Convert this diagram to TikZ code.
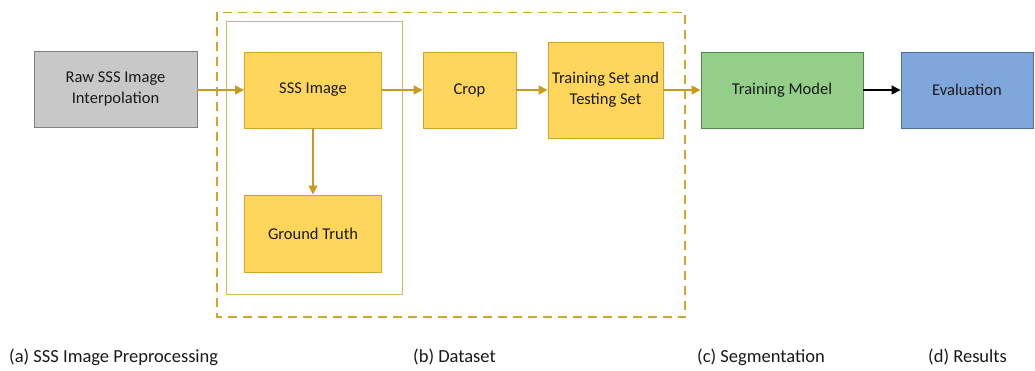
\documentclass[tikz,border=0pt]{standalone}
\usepackage{fontspec}
\setmainfont{Carlito}
\usetikzlibrary{arrows.meta}
\definecolor{goldfill}{HTML}{FFD65C}
\definecolor{goldline}{HTML}{D4A52C}
\definecolor{goldarrow}{HTML}{C99A1C}
\definecolor{grayfill}{HTML}{C8C8C8}
\definecolor{grayline}{HTML}{808080}
\definecolor{greenfill}{HTML}{93CF89}
\definecolor{greenline}{HTML}{4F8A45}
\definecolor{bluefill}{HTML}{7FA7DC}
\definecolor{blueline}{HTML}{4B6FA3}
\tikzset{
  stepbox/.style={draw, line width=0.9pt, inner sep=0pt, align=center,
    font=\fontsize{16.5}{21}\selectfont, text=black!90},
  ybox/.style={stepbox, fill=goldfill, draw=goldline},
  flow/.style={draw=goldarrow, line width=1.4pt, -{Triangle[length=9pt,width=9pt]}},
  caption/.style={anchor=west, inner sep=0pt, font=\fontsize{18.5}{22}\selectfont, text=black!90},
}
\begin{document}
\begin{tikzpicture}[x=1pt,y=-1pt]
\useasboundingbox (0,0) rectangle (1035,371);
% dataset frame and the image/label group
\draw[goldline, line width=1.6pt, dash pattern=on 9pt off 6pt] (217,12.5) rectangle (685,317);
\draw[goldline!80, line width=1pt] (226,22) rectangle (402,294);
% process boxes
\node[stepbox, fill=grayfill, draw=grayline, minimum width=163pt, minimum height=76pt] (raw) at (115.5,89) {Raw SSS Image\\Interpolation};
\node[ybox, minimum width=137pt, minimum height=76pt] (sss) at (313,90) {SSS Image};
\node[ybox, minimum width=137pt, minimum height=77pt] (gt) at (313,233.5) {Ground Truth};
\node[ybox, minimum width=93pt, minimum height=76pt] (crop) at (469.5,90) {Crop};
\node[ybox, minimum width=115pt, minimum height=96pt] (sets) at (605.5,90) {Training Set and\\Testing Set};
\node[stepbox, fill=greenfill, draw=greenline, minimum width=162pt, minimum height=76pt] (train) at (782,90) {Training Model};
\node[stepbox, fill=bluefill, draw=blueline, minimum width=132pt, minimum height=76pt] (eval) at (967,90) {Evaluation};
% connectors
\draw[flow] (raw.east |- sss.west) -- (sss.west);
\draw[flow] (sss.south) -- (gt.north);
\draw[flow] (sss.east) -- (crop.west);
\draw[flow] (crop.east) -- (sets.west);
\draw[flow] (sets.east) -- (train.west);
\draw[line width=1.4pt, -{Triangle[length=9pt,width=9pt]}] (train.east) -- (eval.west);
% stage captions
\node[caption] (capa) at (9,357) {(a) SSS Image Preprocessing};
\node[caption] (capb) at (413,357) {(b) Dataset};
\node[caption] (capc) at (697,357) {(c) Segmentation};
\node[caption] (capd) at (928,357) {(d) Results};
\end{tikzpicture}
\end{document}
